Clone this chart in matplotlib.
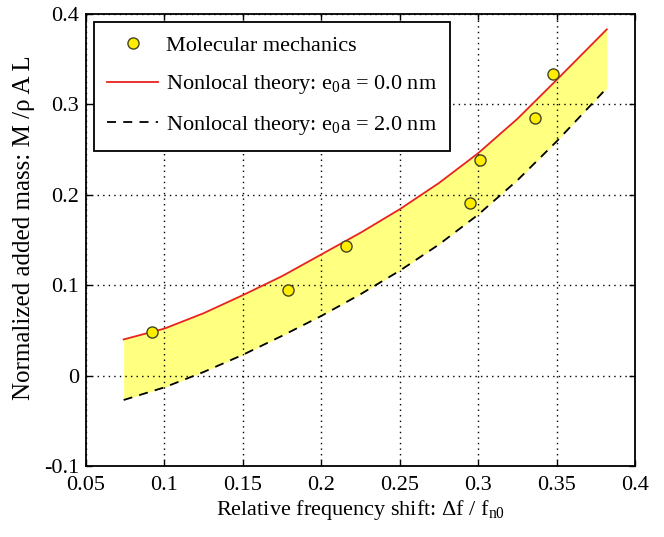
import numpy as np
import matplotlib
matplotlib.use("Agg")
import matplotlib.pyplot as plt

plt.rcParams['font.family'] = ['Liberation Serif', 'DejaVu Serif']
plt.rcParams['mathtext.default'] = 'regular'

# molecular mechanics results
md_shift = [0.092, 0.179, 0.216, 0.295, 0.301, 0.336, 0.348]
md_mass = [0.048, 0.095, 0.143, 0.191, 0.238, 0.285, 0.334]

# nonlocal theory curves
theory_shift = [0.074, 0.1, 0.125, 0.15, 0.175, 0.2, 0.225, 0.25, 0.275, 0.3, 0.325, 0.35, 0.382]
mass_e0a_0 = [0.040, 0.052, 0.069, 0.089, 0.110, 0.134, 0.158, 0.184, 0.213, 0.246, 0.284, 0.327, 0.383]
mass_e0a_2 = [-0.027, -0.013, 0.004, 0.023, 0.044, 0.066, 0.090, 0.116, 0.145, 0.178, 0.216, 0.259, 0.318]

fig = plt.figure(figsize=(6.64, 5.37), dpi=100)
ax = fig.add_axes([86 / 664, 1 - 466 / 537, 549 / 664, 452 / 537])

ax.fill_between(theory_shift, mass_e0a_2, mass_e0a_0, color='#ffff80', lw=0, zorder=1)
ax.plot(theory_shift, mass_e0a_0, color='#e8231e', lw=1.3, zorder=3,
        label='Nonlocal theory: e$_0$a = 0.0 nm')
ax.plot(theory_shift, mass_e0a_2, color='black', lw=1.3, ls=(0, (5, 4)), zorder=3,
        label='Nonlocal theory: e$_0$a = 2.0 nm')
ax.plot(md_shift, md_mass, 'o', ms=8, mfc='#ffee00', mec='#444422', mew=1.0,
        ls='none', zorder=4, label='Molecular mechanics')

ax.set_xlim(0.05, 0.4)
ax.set_ylim(-0.1, 0.4)
ax.set_xticks(np.arange(0.05, 0.401, 0.05))
ax.set_xticklabels(['0.05', '0.1', '0.15', '0.2', '0.25', '0.3', '0.35', '0.4'])
ax.set_yticks(np.arange(-0.1, 0.401, 0.1))
ax.set_yticklabels(['-0.1', '0', '0.1', '0.2', '0.3', '0.4'])
ax.tick_params(direction='in', top=True, right=True, labelsize=16, length=4, width=1)
ax.tick_params(axis='x', pad=7)
ax.tick_params(axis='y', pad=5)
for s in ax.spines.values():
    s.set_linewidth(1.3)
ax.grid(True, color='black', ls=(0, (1, 3)), lw=1.0)
ax.set_axisbelow(False)

ax.set_xlabel('Relative frequency shift: Δf / f$_{n0}$', fontsize=16, labelpad=2)
ax.set_ylabel('Normalized added mass: M /ρ A L', fontsize=18)
ax.yaxis.set_label_coords(-0.093, 0.527)

handles, labels = ax.get_legend_handles_labels()
order = [2, 0, 1]
leg = ax.legend([handles[i] for i in order], [labels[i] for i in order],
                loc='upper left', fontsize=16, frameon=True, fancybox=False,
                edgecolor='black', framealpha=1, borderaxespad=0.35,
                handlelength=2.3, handletextpad=0.35, labelspacing=0.8,
                borderpad=0.6)
leg.get_frame().set_linewidth(1.3)

plt.savefig('out.png', dpi=100)
